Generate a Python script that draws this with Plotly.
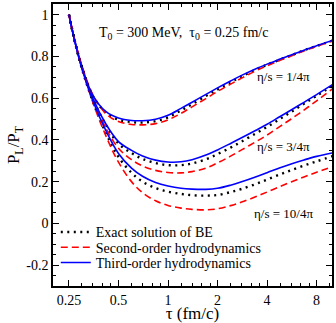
import math
import plotly.graph_objects as go

# ---------------- data ----------------
tau = [0.25, 0.27, 0.3, 0.35, 0.42, 0.5, 0.6, 0.7, 0.84, 1.0, 1.2, 1.4, 1.7, 2.0,
       2.4, 2.8, 3.4, 4.0, 4.8, 5.6, 6.7, 8.0, 10.0]

# eta/s = 1/4pi
exact_1 = [1.0, 0.882, 0.75, 0.61, 0.53, 0.497, 0.485, 0.483, 0.49, 0.508, 0.541, 0.571,
           0.61, 0.642, 0.676, 0.704, 0.736, 0.76, 0.785, 0.805, 0.829, 0.85, 0.876]
second_1 = [1.0, 0.884, 0.755, 0.615, 0.525, 0.488, 0.474, 0.472, 0.478, 0.496, 0.527, 0.558,
            0.598, 0.632, 0.667, 0.696, 0.73, 0.755, 0.781, 0.802, 0.826, 0.848, 0.874]
third_1 = [1.0, 0.882, 0.75, 0.612, 0.535, 0.505, 0.493, 0.492, 0.499, 0.518, 0.551, 0.58,
           0.618, 0.649, 0.682, 0.709, 0.74, 0.763, 0.787, 0.807, 0.83, 0.851, 0.877]

# eta/s = 3/4pi
exact_3 = [1.0, 0.88, 0.745, 0.596, 0.47, 0.382, 0.337, 0.309, 0.289, 0.279, 0.279, 0.287,
           0.307, 0.332, 0.363, 0.392, 0.43, 0.462, 0.501, 0.534, 0.573, 0.611, 0.66]
second_3 = [1.0, 0.882, 0.748, 0.593, 0.455, 0.36, 0.305, 0.275, 0.254, 0.244, 0.242, 0.248,
            0.265, 0.29, 0.322, 0.352, 0.39, 0.423, 0.465, 0.5, 0.543, 0.587, 0.645]
third_3 = [1.0, 0.88, 0.745, 0.598, 0.475, 0.392, 0.35, 0.323, 0.303, 0.294, 0.295, 0.305,
           0.327, 0.352, 0.383, 0.41, 0.445, 0.475, 0.512, 0.543, 0.58, 0.617, 0.665]

# eta/s = 10/4pi
exact_10 = [1.0, 0.878, 0.74, 0.582, 0.432, 0.318, 0.243, 0.2, 0.169, 0.152, 0.141, 0.135,
            0.133, 0.136, 0.15, 0.165, 0.188, 0.21, 0.235, 0.255, 0.277, 0.297, 0.322]
second_10 = [1.0, 0.88, 0.743, 0.578, 0.418, 0.293, 0.2, 0.147, 0.108, 0.086, 0.073, 0.067,
             0.065, 0.07, 0.085, 0.102, 0.127, 0.15, 0.177, 0.198, 0.222, 0.245, 0.272]
third_10 = [1.0, 0.878, 0.74, 0.585, 0.443, 0.335, 0.265, 0.226, 0.196, 0.179, 0.168, 0.164,
            0.163, 0.168, 0.183, 0.199, 0.222, 0.243, 0.267, 0.285, 0.304, 0.321, 0.338]

x_tick_vals = [0.25, 0.5, 1, 2, 4, 8]
x_tick_text = ["0.25", "0.5", "1", "2", "4", "8"]
y_tick_vals = [-0.2, 0, 0.2, 0.4, 0.6, 0.8, 1.0]
y_tick_text = ["-0.2", "0", "0.2", "0.4", "0.6", "0.8", "1"]

eta_labels = ["η/s = 1/4π", "η/s = 3/4π", "η/s = 10/4π"]
series_names = ["Exact solution of BE", "Second-order hydrodynamics", "Third-order hydrodynamics"]

# ---------------- figure ----------------
FONT = "Liberation Serif"
styles = [
    dict(color="black", width=2.4, dash="2px,4.5px"),
    dict(color="#ff0000", width=1.6, dash="7px,4px"),
    dict(color="#0000ff", width=1.6, dash="solid"),
]
legend_ids = ["legend", "legend2", "legend3"]
groups = [
    [exact_1, second_1, third_1],
    [exact_3, second_3, third_3],
    [exact_10, second_10, third_10],
]

fig = go.Figure()
for gi, grp in enumerate(groups):
    for si, vals in enumerate(grp):
        fig.add_trace(go.Scatter(
            x=tau, y=vals, mode="lines",
            line=dict(shape="spline", smoothing=1.0, **styles[si]),
            name=series_names[si], legend=legend_ids[si],
            showlegend=(gi == 0), hoverinfo="skip",
        ))

minor_x = []
for b in x_tick_vals:
    for k in range(1, 5):
        v = b + k * b / 5
        if v < 10:
            minor_x.append(v)

legend_rows = [0.190, 0.136, 0.082]
legend_common = dict(x=0.01, xanchor="left", yanchor="middle",
                     bgcolor="rgba(0,0,0,0)", borderwidth=0,
                     font=dict(family=FONT, size=14), itemwidth=30)

fig.update_layout(
    width=336, height=323,
    margin=dict(l=53, r=3, t=2, b=37),
    paper_bgcolor="white", plot_bgcolor="white",
    font=dict(family=FONT, color="black", size=14),
    showlegend=True,
    legend=dict(y=legend_rows[0], **legend_common),
    legend2=dict(y=legend_rows[1], **legend_common),
    legend3=dict(y=legend_rows[2], **legend_common),
    xaxis=dict(
        type="log", range=[math.log10(0.2), 0.9966],
        tickvals=x_tick_vals, ticktext=x_tick_text,
        ticks="inside", ticklen=6, tickwidth=1.2, tickcolor="black",
        showline=True, linecolor="black", linewidth=1.5, mirror="allticks",
        showgrid=False, zeroline=False,
        tickfont=dict(family=FONT, size=14),
        title=dict(text="τ (fm/c)", font=dict(family=FONT, size=17), standoff=1),
        minor=dict(tickmode="array", tickvals=minor_x, ticks="inside", ticklen=3.5,
                   tickwidth=1, tickcolor="black", showgrid=False),
    ),
    yaxis=dict(
        range=[-0.3, 1.051],
        tickvals=y_tick_vals, ticktext=y_tick_text,
        ticks="inside", ticklen=6, tickwidth=1.2, tickcolor="black",
        showline=True, linecolor="black", linewidth=1.5, mirror="allticks",
        showgrid=False, zeroline=False,
        tickfont=dict(family=FONT, size=14),
        title=dict(text="P<sub>L</sub>/P<sub>T</sub>", font=dict(family=FONT, size=17), standoff=2),
        minor=dict(dtick=0.05, ticks="inside", ticklen=3.5, tickwidth=1,
                   tickcolor="black", showgrid=False),
    ),
)

fig.add_annotation(xref="paper", yref="paper", x=0.467, y=0.897,
                   text="T<sub>0</sub> = 300 MeV,  τ<sub>0</sub> = 0.25 fm/c",
                   showarrow=False, font=dict(family=FONT, size=14),
                   xanchor="center", yanchor="middle")

label_pos = [(5.0, 0.702), (5.0, 0.369), (5.03, 0.046)]
for txt, (lx, ly) in zip(eta_labels, label_pos):
    fig.add_annotation(x=math.log10(lx), y=ly, text=txt, showarrow=False,
                       font=dict(family=FONT, size=13), xanchor="center", yanchor="middle")

fig.write_html("out.html", config={"displayModeBar": False},
               post_script="document.body.style.margin='0';")
